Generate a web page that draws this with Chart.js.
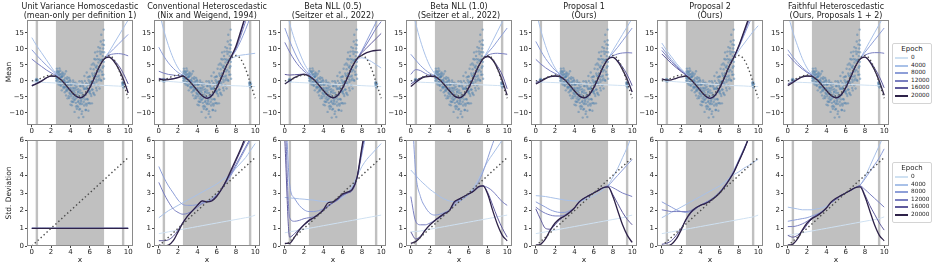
<!DOCTYPE html>
<html><head><meta charset="utf-8">
<script src="https://cdn.jsdelivr.net/npm/chart.js@4.4.1/dist/chart.umd.min.js"></script>
<style>
body{margin:0;background:#fff;}
#wrap{position:relative;width:934px;height:267px;overflow:hidden;font-family:'DejaVu Sans',sans-serif;color:#222;background:#fff;}
canvas{position:absolute;}
.t{position:absolute;width:160px;text-align:center;font-size:8px;line-height:8.5px;white-space:nowrap;}
.yl{position:absolute;font-size:7.5px;transform:translate(-50%,-50%) rotate(-90deg);white-space:nowrap;}
.xl{position:absolute;font-size:7.5px;transform:translate(-50%,-50%);}
.lg{position:absolute;left:892px;width:40px;height:61px;border:1px solid #d4d4d4;border-radius:2px;box-sizing:border-box;background:#fff;}
.lg .h{position:absolute;left:0;width:38px;top:1px;text-align:center;font-size:7px;}
.lg .r{position:absolute;left:2px;height:7px;font-size:5.8px;line-height:7px;white-space:nowrap;}
.lg .sw{position:absolute;left:0;top:3px;width:13px;height:2px;}
.lg .lb{position:absolute;left:16px;top:0;}
</style></head>
<body><div id="wrap"></div>
<script>
// ---------- data ----------
const xGrid = [0,0.5,1,1.5,2,2.5,3,3.5,4,4.5,5,5.5,6,6.5,7,7.5,8,8.5,9,9.5,10];
const xTicks = [0,2,4,6,8,10];
const meanTicks = [-10,-5,0,5,10,15];
const stdTicks = [0,1,2,3,4,5,6];
const epochs = ['0','4000','8000','12000','16000','20000'];
const epochColors = ['#cfe1f2','#a9c1e8','#8e9fd8','#7a7fc0','#5f5a9c','#2e2249'];
const shadeRegions = [[0.4,0.65],[2.5,7.5],[9.35,9.6]];
const titles = [
  ['Unit Variance Homoscedastic','(mean-only per definition 1)'],
  ['Conventional Heteroscedastic','(Nix and Weigend, 1994)'],
  ['Beta NLL (0.5)','(Seitzer et al., 2022)'],
  ['Beta NLL (1.0)','(Seitzer et al., 2022)'],
  ['Proposal 1','(Ours)'],
  ['Proposal 2','(Ours)'],
  ['Faithful Heteroscedastic','(Ours, Proposals 1 + 2)']
];
const truthMean = [0,0.24,0.84,1.5,1.82,1.5,0.42,-1.23,-3.03,-4.4,-4.79,-3.88,-1.68,1.4,4.6,7.04,7.91,6.83,3.71,-0.71,-5.44];
const truthStd = [0,0.25,0.5,0.75,1,1.25,1.5,1.75,2,2.25,2.5,2.75,3,3.25,3.5,3.75,4,4.25,4.5,4.75,5];

const scatterX = [
 2.51,2.53,2.57, 2.6,2.64,2.67, 2.71,2.73,2.78, 2.8,2.84,2.87, 2.91,2.92,2.97, 3.0,3.04,3.06, 3.11,3.13,3.18, 3.2,3.23,3.27, 3.31,3.34,3.38, 3.4,3.42,3.47,
 3.51,3.55,3.58, 3.6,3.63,3.66, 3.71,3.74,3.77, 3.8,3.83,3.88, 3.9,3.94,3.96, 4.01,4.03,4.07, 4.1,4.13,4.17, 4.21,4.24,4.28, 4.3,4.33,4.36, 4.41,4.44,4.47,
 4.5,4.52,4.57, 4.61,4.64,4.67, 4.7,4.73,4.78, 4.81,4.83,4.87, 4.9,4.94,4.96, 5.01,5.03,5.08, 5.1,5.12,5.17, 5.21,5.24,5.27, 5.3,5.34,5.37, 5.41,5.43,5.47,
 5.5,5.53,5.58, 5.61,5.64,5.68, 5.7,5.73,5.76, 5.81,5.84,5.87, 5.9,5.93,5.97, 6.01,6.04,6.07, 6.1,6.13,6.17, 6.21,6.24,6.27, 6.3,6.33,6.38, 6.41,6.44,6.47,
 6.5,6.53,6.57, 6.61,6.63,6.68, 6.7,6.74,6.77, 6.81,6.83,6.88, 6.9,6.93,6.96, 7.01,7.03,7.07, 7.1,7.13,7.17, 7.21,7.24,7.27, 7.3,7.33,7.36, 7.41,7.43,7.46, 7.48,7.49,7.5,
 2.52,2.585, 2.62,2.685, 2.72,2.755, 2.815,2.885, 2.915,2.955, 3.015,3.085, 3.115,3.155, 3.215,3.285, 3.315,3.355, 3.415,3.485,
 3.515,3.555, 3.615,3.685, 3.715,3.755, 3.815,3.885, 3.915,3.955, 4.015,4.085, 4.115,4.155, 4.215,4.285, 4.315,4.355, 4.415,4.455,
 4.515,4.585, 4.615,4.655, 4.715,4.785, 4.815,4.855, 4.915,4.985, 5.015,5.055, 5.115,5.185, 5.215,5.255, 5.315,5.385, 5.415,5.455,
 5.515,5.585, 5.615,5.655, 5.715,5.785, 5.815,5.855, 5.915,5.985, 6.015,6.055, 6.115,6.185, 6.215,6.255, 6.315,6.385, 6.415,6.485,
 6.515,6.555, 6.615,6.685, 6.715,6.755, 6.815,6.885, 6.915,6.955, 7.015,7.085, 7.115,7.155, 7.215,7.285, 7.315,7.355, 7.415,7.455, 7.495,
 0.42,0.44,0.47,0.5,0.52,0.55,0.58,0.61, 9.37,9.4,9.42,9.45,9.48,9.5,9.53,9.57
];
const scatterY = [
 1.88,0.0,2.5, 3.81,0.82,0.17, 1.29,3.04,-1.15, 1.78,0.66,3.88, -0.33,1.99,-1.34, 1.02,2.07,0.27, -2.97,1.22,2.61, -0.99,0.13,-1.95, 1.63,-1.84,-0.52, -0.02,-3.59,0.83,
 -1.76,2.97,-2.98, -0.52,-2.68,0.56, -5.48,-1.41,-0.48, -2.7,-4.79,0.91, -2.49,-4.05,0.25, -7.43,-2.23,-1.23, -4.17,-6.43,-1.1, -3.24,-5.55,0.12, -4.17,-6.53,-2.45, -3.1,-9.7,-1.34,
 -5.75,-2.15,-6.88, -2.74,-5.27,-8.72, -0.94,-4.23,-6.58, -8.13,-3.33,-11.49, -4.8,-0.15,-7.0, -8.79,-3.04,-5.29, -1.66,-6.0,-10.33, -3.82,-7.2,-0.7, -5.48,-11.31,-2.04, -2.56,-7.69,-4.45,
 -0.03,-5.81,-9.1, -4.37,-2.41,-7.73, 2.58,-5.69,-2.55, -5.85,-1.21,-9.33, 0.2,-3.34,1.38, -3.78,-7.08,-0.78, 3.77,-1.72,-4.77, -0.21,-7.03,2.27, -2.74,1.68,5.46, -4.05,1.39,-0.53,
 4.98,-1.2,8.88, 1.39,4.36,-2.24, 4.05,-2.99,7.74, 1.31,6.75,3.69, 10.54,0.19,2.95, 6.7,-2.4,9.15, 3.42,8.39,0.22, 14.39,6.47,2.87, 1.89,11.38,7.73, 10.08,4.53,16.0, 5.92,11.17,0.67,
 0.88,3.0, 1.86,-0.61, 0.88,2.37, 2.76,-0.46, 0.98,3.16, -1.53,1.32, -0.49,1.53, 2.21,-0.51, -2.34,0.31, 2.19,-2.06,
 -0.71,-4.56, -3.22,1.1, -0.85,-2.33, -0.04,-5.36, -3.66,-1.12, -0.23,-4.83, -2.74,-7.66, -6.6,-2.19, -0.51,-5.03, -5.96,-3.76,
 -0.58,-8.0, -4.81,-1.82, -7.76,-3.53, -2.61,-6.21, -8.97,-1.62, -3.79,-7.29, -6.51,-0.13, -9.54,-4.6, -1.5,-6.54, -4.99,1.49,
 -2.5,-7.18, -9.13,-0.73, -1.98,-7.11, 1.11,-3.24, -6.88,-0.39, 1.32,-3.18, -4.16,-0.2, 5.06,-2.69, -0.85,-3.68, 3.63,6.83,
 -4.45,2.38, 6.67,0.4, -0.31,4.72, 9.13,-1.41, 5.71,1.57, 0.75,10.2, 6.26,12.29, 0.0,8.99, 6.64,4.08, 1.94,12.67, 8.92,
 0.3,-0.1,0.55,0.2,0.05,0.45,-0.2,0.25, -0.6,-1.3,-0.8,-1.7,-0.4,-1.1,-2.1,-0.9
];

// mean curves, one row per epoch (0,4000,8000,12000,16000,20000)
const meanUnitVar = [
  [-0.3,-0.38,-0.45,-0.53,-0.6,-0.68,-0.75,-0.83,-0.9,-0.98,-1.05,-1.13,-1.2,-1.28,-1.35,-1.43,-1.5,-1.58,-1.65,-1.73,-1.8],
  [13.5,11.0,8.8,6.6,4.4,2.3,0.6,-1.1,-2.9,-4.5,-5.2,-4.4,-2.1,1.1,4.5,7.0,9.0,11.5,14.0,16.5,19.0],
  [9.7,8.0,6.4,4.9,3.5,2.0,0.5,-1.2,-3.0,-4.6,-5.3,-4.5,-2.2,1.0,4.4,6.9,8.5,10.0,11.5,13.0,14.5],
  [6.8,5.6,4.5,3.4,2.5,1.6,0.4,-1.2,-3.0,-4.6,-5.3,-4.5,-2.2,1.0,4.4,6.8,8.0,8.4,8.5,8.3,7.8],
  [-1.4,-0.8,0.0,0.9,1.5,1.4,0.4,-1.2,-3.0,-4.6,-5.3,-4.5,-2.2,1.0,4.4,6.8,7.5,6.5,4.8,2.3,-1.0],
  [-1.6,-0.9,-0.1,0.9,1.5,1.4,0.4,-1.2,-3.0,-4.6,-5.3,-4.5,-2.2,1.0,4.4,6.8,7.4,6.2,3.8,0.5,-3.8]
];
const meanConventional = [
  [0.0,-0.1,-0.2,-0.3,-0.4,-0.5,-0.6,-0.7,-0.8,-0.9,-1.0,-1.1,-1.2,-1.3,-1.4,-1.5,-1.55,-1.6,-1.7,-1.75,-1.8],
  [22,16,11,7,4,2.2,0.6,-1.1,-2.9,-4.5,-5.2,-4.4,-2.1,1.1,4.4,6.8,7.6,8.0,8.2,8.4,8.6],
  [10.5,7.8,5.6,3.9,2.6,1.7,0.5,-1.2,-3.0,-4.6,-5.3,-4.5,-2.2,1.0,4.5,7.2,9.5,12.5,16,20,24],
  [3.0,2.4,2.0,1.8,1.6,1.5,0.4,-1.2,-3.0,-4.7,-5.4,-4.6,-2.2,1.0,4.6,7.4,10.0,14.0,18.5,23,28],
  [0.8,0.5,0.5,0.7,1.1,1.5,0.4,-1.2,-3.0,-4.7,-5.5,-4.6,-2.2,1.0,4.6,7.5,10.5,15.0,20,25,30],
  [0.5,0.3,0.4,0.6,1.0,1.5,0.4,-1.2,-3.0,-4.7,-5.5,-4.6,-2.2,1.0,4.6,7.5,10.8,15.5,20.5,26,31]
];
const meanBeta05 = [
  [-0.3,-0.38,-0.45,-0.53,-0.6,-0.68,-0.75,-0.83,-0.9,-0.98,-1.05,-1.13,-1.2,-1.28,-1.35,-1.43,-1.5,-1.58,-1.65,-1.73,-1.8],
  [24,18,13,9,5.5,3.0,0.8,-1.0,-2.9,-4.5,-5.2,-4.4,-2.1,1.0,4.2,6.5,7.2,6.8,6.0,5.0,4.0],
  [16.5,12.5,9.0,6.0,3.8,2.2,0.5,-1.2,-3.0,-4.6,-5.3,-4.5,-2.2,1.0,4.4,6.9,9.5,12.5,15.5,18.5,21.5],
  [12,9,6.5,4.5,3.0,1.8,0.4,-1.2,-3.0,-4.6,-5.3,-4.5,-2.2,1.0,4.4,6.9,9.2,11.5,14,16.5,18.5],
  [2.0,1.8,1.9,2.0,2.1,1.6,0.4,-1.2,-3.0,-4.6,-5.3,-4.5,-2.2,1.0,4.4,6.9,8.8,10.3,11.8,13.3,14.8],
  [-1.0,0.0,1.0,1.7,2.0,1.5,0.4,-1.2,-3.0,-4.6,-5.3,-4.5,-2.2,1.0,4.4,6.9,8.0,8.8,9.3,9.5,9.6]
];
const meanBeta10 = [
  [-0.3,-0.37,-0.43,-0.5,-0.56,-0.63,-0.69,-0.76,-0.82,-0.89,-0.95,-1.02,-1.08,-1.15,-1.21,-1.28,-1.34,-1.41,-1.47,-1.54,-1.6],
  [24,18,12.5,8,4.5,2.2,0.6,-1.1,-2.9,-4.5,-5.2,-4.4,-2.1,1.1,4.5,7.0,9.5,12.5,15.5,18.5,21.5],
  [8.3,6.5,4.8,3.4,2.3,1.6,0.4,-1.2,-3.0,-4.6,-5.3,-4.5,-2.2,1.0,4.4,6.9,8.8,10.5,12.5,14.5,16.5],
  [2.0,3.5,3.2,2.3,1.7,1.4,0.4,-1.2,-3.0,-4.6,-5.3,-4.5,-2.2,1.0,4.4,6.9,8.0,8.5,8.6,8.5,8.3],
  [-1.0,0.0,0.9,1.4,1.5,1.3,0.3,-1.3,-3.1,-4.7,-5.3,-4.5,-2.2,1.0,4.4,6.9,7.6,6.6,4.5,1.8,-2.5],
  [-1.8,-0.5,0.6,1.2,1.4,1.3,0.3,-1.3,-3.1,-4.7,-5.3,-4.5,-2.2,1.0,4.4,6.9,7.6,6.5,3.8,0.0,-4.5]
];
const meanProposal1 = [
  [-0.3,-0.37,-0.43,-0.5,-0.56,-0.63,-0.69,-0.76,-0.82,-0.89,-0.95,-1.02,-1.08,-1.15,-1.21,-1.28,-1.34,-1.41,-1.47,-1.54,-1.6],
  [22,16,11,7,4,2.0,0.6,-1.1,-2.9,-4.5,-5.2,-4.4,-2.1,1.1,4.4,6.9,9.5,12,14.5,17,19.5],
  [12.3,9.5,7.0,5.0,3.3,2.0,0.5,-1.2,-3.0,-4.6,-5.3,-4.5,-2.2,1.0,4.4,6.9,8.7,10.5,12.5,14.5,16.5],
  [6.7,5.3,4.1,3.1,2.3,1.6,0.4,-1.2,-3.0,-4.6,-5.3,-4.5,-2.2,1.0,4.4,6.8,7.8,8.4,8.7,8.8,8.7],
  [-0.5,0.1,0.8,1.3,1.5,1.3,0.3,-1.3,-3.1,-4.7,-5.3,-4.5,-2.2,1.0,4.4,6.8,7.3,6.3,4.3,1.8,-1.5],
  [-1.0,-0.2,0.7,1.3,1.5,1.3,0.3,-1.3,-3.1,-4.7,-5.3,-4.5,-2.2,1.0,4.4,6.8,7.3,6.0,3.5,0.3,-3.5]
];
const meanProposal2 = [
  [0.0,-0.1,-0.2,-0.3,-0.4,-0.5,-0.6,-0.7,-0.8,-0.9,-1.0,-1.1,-1.2,-1.3,-1.4,-1.5,-1.55,-1.6,-1.7,-1.75,-1.8],
  [11.8,9.5,7.5,5.5,3.8,2.2,0.6,-1.1,-2.9,-4.5,-5.2,-4.4,-2.1,1.1,4.4,6.9,9.5,11.5,13.5,15.5,17.2],
  [10.5,8.5,6.6,4.9,3.4,2.0,0.5,-1.2,-3.0,-4.6,-5.4,-4.6,-2.2,1.0,4.6,7.4,10.5,14,17.5,21,24.5],
  [9.5,7.7,6.0,4.5,3.1,1.9,0.4,-1.2,-3.0,-4.7,-5.5,-4.6,-2.2,1.0,4.6,7.5,10.7,14.5,18.5,22.5,26.5],
  [8.4,6.9,5.4,4.1,2.9,1.8,0.4,-1.2,-3.0,-4.7,-5.5,-4.6,-2.2,1.0,4.6,7.5,10.9,15,19,23.5,27.5],
  [0.6,0.2,0.3,0.8,1.2,1.5,0.4,-1.2,-3.0,-4.7,-5.5,-4.6,-2.2,1.0,4.6,7.5,11,15.2,19.5,24,28]
];
const meanFaithful = [
  [-0.3,-0.37,-0.43,-0.5,-0.56,-0.63,-0.69,-0.76,-0.82,-0.89,-0.95,-1.02,-1.08,-1.15,-1.21,-1.28,-1.34,-1.41,-1.47,-1.54,-1.6],
  [21,15.5,11,7,4,2.0,0.6,-1.1,-2.9,-4.5,-5.2,-4.4,-2.1,1.1,4.4,6.9,9.6,12.3,15,17.7,20.4],
  [9.7,7.6,5.8,4.2,2.9,1.8,0.5,-1.2,-3.0,-4.6,-5.3,-4.5,-2.2,1.0,4.4,6.9,8.9,10.8,12.7,14.6,16.5],
  [8.3,6.5,5.0,3.7,2.6,1.7,0.4,-1.2,-3.0,-4.6,-5.3,-4.5,-2.2,1.0,4.4,6.8,8.0,8.6,8.8,8.8,8.6],
  [-1.0,-0.3,0.6,1.2,1.5,1.4,0.4,-1.2,-3.0,-4.6,-5.3,-4.5,-2.2,1.0,4.4,6.8,7.4,6.2,4.0,1.3,-2.2],
  [-1.5,-0.6,0.4,1.2,1.5,1.4,0.4,-1.2,-3.0,-4.6,-5.3,-4.5,-2.2,1.0,4.4,6.8,7.4,6.0,3.4,-0.2,-4.5]
];

// std curves, one row per epoch
const stdUnitVar = [
  [1,1,1,1,1,1,1,1,1,1,1,1,1,1,1,1,1,1,1,1,1],
  [1,1,1,1,1,1,1,1,1,1,1,1,1,1,1,1,1,1,1,1,1],
  [1,1,1,1,1,1,1,1,1,1,1,1,1,1,1,1,1,1,1,1,1],
  [1,1,1,1,1,1,1,1,1,1,1,1,1,1,1,1,1,1,1,1,1],
  [1,1,1,1,1,1,1,1,1,1,1,1,1,1,1,1,1,1,1,1,1],
  [1,1,1,1,1,1,1,1,1,1,1,1,1,1,1,1,1,1,1,1,1]
];
const stdConventional = [
  [0.7,0.75,0.8,0.85,0.9,0.95,1.0,1.05,1.1,1.15,1.2,1.25,1.3,1.35,1.4,1.45,1.5,1.55,1.6,1.65,1.75],
  [1.6,1.8,2.0,2.15,2.3,2.45,2.6,2.75,2.9,3.05,3.2,3.35,3.5,3.7,3.9,4.1,4.4,4.7,5.0,5.4,5.8],
  [4.5,3.9,3.4,3.0,2.6,2.35,2.3,2.3,2.35,2.45,2.55,2.7,2.9,3.2,3.6,4.0,4.5,5.0,5.5,6.0,6.5],
  [3.6,3.0,2.5,2.1,1.9,1.8,1.85,2.0,2.2,2.4,2.5,2.6,2.85,3.2,3.65,4.1,4.6,5.1,5.6,6.1,6.6],
  [0.3,0.3,0.35,0.55,0.9,1.35,1.7,2.0,2.3,2.55,2.5,2.6,2.85,3.25,3.7,4.2,4.8,5.4,6.0,6.6,7.2],
  [0.05,0.02,0.05,0.3,0.8,1.3,1.7,2.0,2.3,2.55,2.5,2.55,2.8,3.2,3.7,4.3,4.9,5.5,6.2,6.9,7.6]
];
const stdBeta05 = [
  [0.75,0.8,0.85,0.9,0.95,1.0,1.05,1.1,1.15,1.2,1.25,1.3,1.35,1.4,1.45,1.5,1.55,1.6,1.65,1.7,1.75],
  [2.75,2.72,2.7,2.67,2.65,2.62,2.6,2.55,2.52,2.5,2.52,2.6,2.75,3.0,3.4,3.95,4.5,4.9,5.2,5.5,5.8],
  [9,3.5,2.7,2.3,2.05,1.95,1.95,2.0,2.1,2.25,2.45,2.65,2.85,3.05,3.3,3.9,5.2,6.5,7.5,8,9],
  [8,1.6,1.4,1.45,1.55,1.6,1.65,1.8,2.0,2.25,2.45,2.6,2.85,3.0,3.2,3.9,5.4,6.8,8,9,10],
  [6,0.5,0.7,0.95,1.2,1.4,1.6,1.8,2.0,2.3,2.45,2.65,2.9,3.0,3.15,3.85,5.5,7,8.5,9.5,10.5],
  [0.15,0.15,0.5,0.9,1.2,1.45,1.6,1.8,2.05,2.45,2.5,2.7,2.95,3.05,3.2,3.9,5.6,7.2,8.7,10,11]
];
const stdBeta10 = [
  [0.8,0.82,0.85,0.9,0.95,1.0,1.05,1.1,1.15,1.2,1.25,1.3,1.35,1.4,1.45,1.5,1.55,1.6,1.65,1.7,1.75],
  [4.3,4.0,3.7,3.45,3.2,3.0,2.8,2.65,2.55,2.5,2.55,2.7,2.95,3.3,3.75,4.3,4.8,5.2,5.6,6.0,6.3],
  [9,4.2,2.8,2.2,1.85,1.75,1.8,1.9,2.05,2.3,2.5,2.7,2.9,3.2,3.6,4.2,5.0,5.8,6.5,7.2,8],
  [2.8,1.4,1.2,1.2,1.3,1.45,1.6,1.8,2.0,2.4,2.6,2.8,2.95,3.1,3.3,3.4,3.3,3.1,2.8,2.5,2.3],
  [0.8,0.4,0.55,0.9,1.2,1.45,1.65,1.85,2.0,2.45,2.65,2.8,2.95,3.1,3.35,3.4,3.0,2.3,1.6,1.0,0.5],
  [0.15,0.25,0.5,0.9,1.2,1.45,1.65,1.85,2.0,2.5,2.65,2.8,2.95,3.1,3.35,3.4,2.9,2.0,1.2,0.6,0.3]
];
const stdProposal1 = [
  [0.7,0.75,0.8,0.85,0.9,0.95,1.0,1.05,1.1,1.15,1.2,1.25,1.3,1.35,1.4,1.45,1.5,1.55,1.6,1.68,1.75],
  [2.85,2.83,2.8,2.75,2.7,2.65,2.6,2.57,2.55,2.55,2.6,2.7,2.85,3.0,3.2,3.45,3.9,4.4,5.0,5.6,6.3],
  [2.5,2.35,2.2,2.05,1.95,1.9,1.9,2.0,2.15,2.45,2.65,2.85,3.0,3.15,3.3,3.4,3.7,4.0,4.3,4.6,4.9],
  [2.2,2.0,1.85,1.75,1.7,1.7,1.75,1.95,2.15,2.5,2.7,2.85,3.0,3.15,3.3,3.4,3.3,3.15,3.0,2.9,2.8],
  [2.1,1.5,1.0,0.95,1.2,1.5,1.7,1.9,2.15,2.5,2.7,2.85,3.0,3.15,3.3,3.35,2.9,2.4,1.9,1.5,1.2],
  [0.05,0.1,0.4,0.9,1.3,1.55,1.7,1.9,2.15,2.5,2.7,2.85,3.0,3.15,3.3,3.35,2.8,2.0,1.2,0.6,0.2]
];
const stdProposal2 = [
  [0.7,0.75,0.8,0.85,0.9,0.95,1.0,1.05,1.1,1.15,1.2,1.25,1.3,1.35,1.4,1.45,1.5,1.55,1.6,1.65,1.75],
  [1.6,1.75,1.9,2.05,2.2,2.35,2.5,2.65,2.8,2.95,3.1,3.25,3.4,3.6,3.85,4.05,4.2,4.4,4.55,4.75,4.9],
  [2.5,2.35,2.2,2.05,1.95,1.9,1.95,2.1,2.3,2.45,2.6,2.8,3.05,3.4,3.8,4.3,4.9,5.5,6.1,6.7,7.3],
  [2.05,2.0,1.95,1.95,1.95,1.95,2.0,2.15,2.3,2.45,2.6,2.8,3.05,3.4,3.8,4.25,4.85,5.45,6.05,6.7,7.3],
  [0.1,0.15,0.3,0.6,1.0,1.45,1.85,2.1,2.3,2.4,2.55,2.75,3.0,3.35,3.75,4.2,4.8,5.4,6.1,6.8,7.5],
  [0.02,0.02,0.1,0.4,0.9,1.5,1.9,2.15,2.3,2.4,2.55,2.75,3.0,3.35,3.75,4.2,4.8,5.4,6.1,6.8,7.5]
];
const stdFaithful = [
  [0.6,0.65,0.7,0.75,0.8,0.85,0.9,0.95,1.0,1.05,1.1,1.15,1.2,1.25,1.3,1.35,1.4,1.45,1.5,1.55,1.65],
  [2.2,2.15,2.1,2.05,2.05,2.05,2.1,2.15,2.25,2.45,2.65,2.85,3.0,3.15,3.3,3.45,3.9,4.5,5.1,5.7,6.3],
  [1.4,1.45,1.5,1.55,1.6,1.7,1.8,1.95,2.15,2.45,2.65,2.85,3.0,3.15,3.3,3.45,3.8,4.2,4.6,5.0,5.5],
  [1.1,1.1,1.15,1.25,1.4,1.6,1.75,1.9,2.15,2.45,2.65,2.85,3.0,3.15,3.3,3.4,3.2,2.95,2.7,2.45,2.2],
  [0.6,0.5,0.6,0.85,1.2,1.55,1.75,1.9,2.15,2.45,2.65,2.85,3.0,3.15,3.3,3.4,2.9,2.3,1.8,1.3,0.9],
  [0.05,0.1,0.4,0.9,1.3,1.55,1.7,1.9,2.15,2.5,2.7,2.85,3.0,3.15,3.3,3.35,2.8,2.0,1.2,0.6,0.3]
];

const meanSets = [meanUnitVar, meanConventional, meanBeta05, meanBeta10, meanProposal1, meanProposal2, meanFaithful];
const stdSets = [stdUnitVar, stdConventional, stdBeta05, stdBeta10, stdProposal1, stdProposal2, stdFaithful];

// ---------- layout ----------
const panelLeft = [27,154,280,406,531,657,783];
const panelW = 106;
const wrap = document.getElementById('wrap');
const FONT = "'DejaVu Sans', sans-serif";

const shadePlugin = {
  id: 'shade',
  beforeDatasetsDraw(chart) {
    const {ctx, chartArea: a, scales: {x}} = chart;
    ctx.save();
    ctx.fillStyle = '#c0c0c0';
    shadeRegions.forEach(([s, e]) => {
      const x0 = x.getPixelForValue(s), x1 = x.getPixelForValue(e);
      ctx.fillRect(x0, a.top, x1 - x0, a.bottom - a.top);
    });
    ctx.restore();
  },
  afterDraw(chart) {
    const {ctx, chartArea: a} = chart;
    ctx.save();
    ctx.strokeStyle = '#8a8a8a';
    ctx.lineWidth = 1;
    ctx.strokeRect(Math.round(a.left) + 0.5, Math.round(a.top) + 0.5, Math.round(a.width) - 1, Math.round(a.height) - 1);
    ctx.restore();
  }
};

const pts = arr => xGrid.map((x, i) => ({x, y: arr[i]}));
const fmt = v => String(v).replace('-', '\u2212');

function makePanel(col, row) {
  const top = row === 0;
  const cv = document.createElement('canvas');
  const W = 28 + panelW + 10, H = top ? 134 : 133;
  cv.width = W; cv.height = H;
  cv.style.left = (panelLeft[col] - 28) + 'px';
  cv.style.top = (top ? 0 : 134) + 'px';
  cv.style.width = W + 'px'; cv.style.height = H + 'px';
  wrap.appendChild(cv);

  const sets = top ? meanSets[col] : stdSets[col];
  const datasets = [];
  datasets.push({
    type: 'line', data: pts(top ? truthMean : truthStd), borderColor: '#4a4a4a', borderWidth: 1.4,
    borderDash: [1.4, 2.6], pointRadius: 0, fill: false, order: 0, cubicInterpolationMode: 'monotone'
  });
  sets.forEach((arr, k) => {
    datasets.push({
      type: 'line', data: pts(arr), borderColor: epochColors[k], borderWidth: k === 5 ? 1.3 : 1,
      pointRadius: 0, fill: false, order: 6 - k, cubicInterpolationMode: 'monotone'
    });
  });
  if (top) {
    const n = Math.min(scatterX.length, scatterY.length);
    const sp = [];
    for (let i = 0; i < n; i++) sp.push({x: scatterX[i], y: scatterY[i]});
    datasets.push({
      type: 'scatter', data: sp, pointRadius: 1.2, pointBorderWidth: 0,
      backgroundColor: 'rgba(80,130,175,0.5)', borderColor: 'rgba(0,0,0,0)', order: 10, showLine: false
    });
  }
  const yT = top ? meanTicks : stdTicks;
  new Chart(cv, {
    type: 'line',
    data: {datasets},
    plugins: [shadePlugin],
    options: {
      responsive: false, animation: false, devicePixelRatio: 1,
      layout: {padding: {top: top ? 20 : 6, right: 10, left: 0, bottom: 0}},
      plugins: {legend: {display: false}, title: {display: false}, tooltip: {enabled: false}},
      elements: {line: {tension: 0}},
      scales: {
        x: {
          type: 'linear', min: -0.5, max: 10.5,
          afterBuildTicks: s => { s.ticks = xTicks.map(v => ({value: v})); },
          afterFit: s => { s.height = top ? 9 : 21; },
          grid: {display: true, drawOnChartArea: false, drawTicks: true, tickLength: 2, color: '#444'},
          border: {display: false},
          ticks: {font: {size: 7, family: FONT}, color: '#222', padding: 0, maxRotation: 0, autoSkip: false, callback: fmt}
        },
        y: {
          type: 'linear', min: top ? -13.8 : 0, max: top ? 19 : 6,
          afterBuildTicks: s => { s.ticks = yT.map(v => ({value: v})); },
          afterFit: s => { s.width = 28; },
          grid: {display: true, drawOnChartArea: false, drawTicks: true, tickLength: 2, color: '#444'},
          border: {display: false},
          ticks: {font: {size: 7, family: FONT}, color: '#222', padding: 1, autoSkip: false, callback: fmt}
        }
      }
    }
  });
}

for (let c = 0; c < 7; c++) { makePanel(c, 0); makePanel(c, 1); }

// titles
titles.forEach((t, c) => {
  const d = document.createElement('div');
  d.className = 't';
  d.style.left = (panelLeft[c] + panelW / 2 - 80) + 'px';
  d.style.top = '3px';
  d.innerHTML = t[0] + '<br>' + t[1];
  wrap.appendChild(d);
  const xl = document.createElement('div');
  xl.className = 'xl';
  xl.style.left = (panelLeft[c] + panelW / 2) + 'px';
  xl.style.top = '259px';
  xl.textContent = 'x';
  wrap.appendChild(xl);
});
[['Mean', 72], ['Std. Deviation', 193]].forEach(([s, y]) => {
  const d = document.createElement('div');
  d.className = 'yl'; d.style.left = '8px'; d.style.top = y + 'px'; d.textContent = s;
  wrap.appendChild(d);
});
// legends
[43, 162].forEach(topY => {
  const lg = document.createElement('div');
  lg.className = 'lg'; lg.style.top = topY + 'px';
  const h = document.createElement('div'); h.className = 'h'; h.textContent = 'Epoch'; lg.appendChild(h);
  epochs.forEach((e, k) => {
    const r = document.createElement('div'); r.className = 'r'; r.style.top = Math.round(10 + k * 7.6) + 'px';
    const sw = document.createElement('div'); sw.className = 'sw'; sw.style.background = epochColors[k];
    const lb = document.createElement('div'); lb.className = 'lb'; lb.textContent = e;
    r.appendChild(sw); r.appendChild(lb);
    lg.appendChild(r);
  });
  wrap.appendChild(lg);
});
</script></body></html>
